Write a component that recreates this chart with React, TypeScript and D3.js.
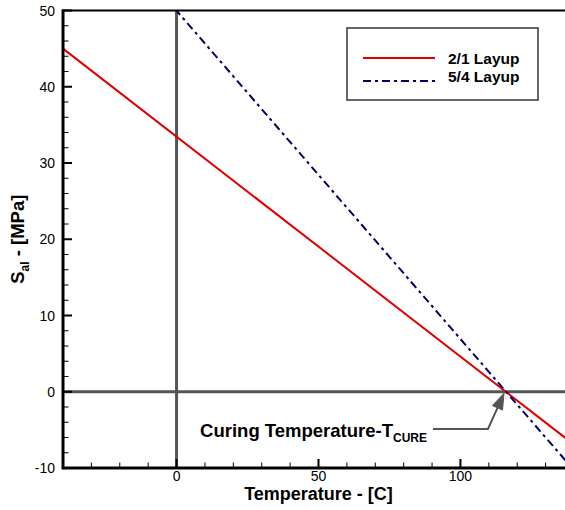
import React from "react";
import * as d3 from "d3";

// ---- data ----
const temperature = [-40, 140];
const layup21 = [45.0, -6.93];
const layup54 = [67.2, -10.3];
const xTicksMajor = [0, 50, 100];
const yTicksMajor = [-10, 0, 10, 20, 30, 40, 50];
const seriesNames = ["2/1 Layup", "5/4 Layup"];
const cureTemp = 115.7;

const W = 565;
const H = 510;
const FONT = "'Liberation Sans', Arial, Helvetica, sans-serif";

export default function App() {
  const x = d3.scaleLinear().domain([-40, 140]).range([63, 574]);
  const y = d3.scaleLinear().domain([-10, 50]).range([468, 10.5]);
  const [x0, x1] = x.range();
  const [yb, yt] = y.range();

  const xMinor = d3.range(-40, 141, 10).filter((v) => !xTicksMajor.includes(v));
  const yMinor = d3.range(-10, 51, 2).filter((v) => !yTicksMajor.includes(v));

  const line = d3
    .line<[number, number]>()
    .x((d) => x(d[0]))
    .y((d) => y(d[1]));

  const d21 = line(temperature.map((t, i) => [t, layup21[i]] as [number, number])) || "";
  const d54 = line(temperature.map((t, i) => [t, layup54[i]] as [number, number])) || "";

  // arrow
  const tipX = x(cureTemp) - 1;
  const tipY = y(0) + 1.5;
  const elbowX = 488;
  const elbowY = 429;
  const dx = tipX - elbowX;
  const dy = tipY - elbowY;
  const len = Math.sqrt(dx * dx + dy * dy);
  const ux = dx / len;
  const uy = dy / len;
  const headL = 16;
  const headW = 5.5;
  const bx = tipX - ux * headL;
  const by = tipY - uy * headL;
  const px = -uy;
  const py = ux;

  return (
    <svg
      width={W}
      height={H}
      style={{ position: "absolute", left: 0, top: 0, background: "#fff" }}
      fontFamily={FONT}
    >
      <defs>
        <clipPath id="plot">
          <rect x={x0} y={yt} width={x1 - x0} height={yb - yt} />
        </clipPath>
      </defs>

      {/* zero lines */}
      <line x1={x(0)} x2={x(0)} y1={yt} y2={yb} stroke="#555" strokeWidth={3} />
      <line x1={x0} x2={x1} y1={y(0)} y2={y(0)} stroke="#555" strokeWidth={3} />

      {/* series */}
      <g clipPath="url(#plot)">
        <path d={d21} fill="none" stroke="#e00000" strokeWidth={2} />
        <path
          d={d54}
          fill="none"
          stroke="#000066"
          strokeWidth={2}
          strokeDasharray="8,4,3,4"
        />
      </g>

      {/* frame */}
      <rect x={x0} y={yt} width={x1 - x0} height={yb - yt} fill="none" stroke="#000" strokeWidth={2} />
      <line x1={x0} x2={x0} y1={yt - 1} y2={yb + 1.5} stroke="#000" strokeWidth={3} />
      <line x1={x0} x2={x1} y1={yb} y2={yb} stroke="#000" strokeWidth={3} />

      {/* y ticks */}
      {yTicksMajor.map((v) => (
        <g key={"ym" + v}>
          <line x1={x0} x2={x0 + 9} y1={y(v)} y2={y(v)} stroke="#000" strokeWidth={2} />
          <text x={55} y={y(v)} fontSize={14} textAnchor="end" dominantBaseline="central">
            {v}
          </text>
        </g>
      ))}
      {yMinor.map((v) => (
        <line key={"yn" + v} x1={x0} x2={x0 + 5.5} y1={y(v)} y2={y(v)} stroke="#000" strokeWidth={1} />
      ))}

      {/* x ticks */}
      {xTicksMajor.map((v) => (
        <g key={"xm" + v}>
          <line x1={x(v)} x2={x(v)} y1={yb} y2={yb - 9} stroke="#000" strokeWidth={2} />
          <text x={x(v)} y={480.5} fontSize={14} textAnchor="middle">
            {v}
          </text>
        </g>
      ))}
      {xMinor.map((v) => (
        <line key={"xn" + v} x1={x(v)} x2={x(v)} y1={yb} y2={yb - 5.5} stroke="#000" strokeWidth={1} />
      ))}

      {/* axis titles */}
      <text x={(x0 + x1) / 2} y={500} fontSize={18} fontWeight="bold" textAnchor="middle">
        Temperature - [C]
      </text>
      <text
        transform={`translate(24, ${(yt + yb) / 2}) rotate(-90)`}
        fontSize={18.5}
        fontWeight="bold"
        textAnchor="middle"
      >
        S
        <tspan fontSize={12} dy={5}>
          al
        </tspan>
        <tspan dy={-5}> - [MPa]</tspan>
      </text>

      {/* legend */}
      <rect x={347} y={28} width={191} height={72} fill="#fff" stroke="#333" strokeWidth={1.5} />
      <line x1={363} x2={435} y1={58} y2={58} stroke="#e00000" strokeWidth={2} />
      <line x1={363} x2={435} y1={81} y2={81} stroke="#000066" strokeWidth={2} strokeDasharray="8,4,3,4" />
      <text x={448} y={63.5} fontSize={15.5} fontWeight="bold">
        {seriesNames[0]}
      </text>
      <text x={448} y={81.5} fontSize={15.5} fontWeight="bold">
        {seriesNames[1]}
      </text>

      {/* annotation */}
      <text x={427} y={437} fontSize={18.5} fontWeight="bold" textAnchor="end">
        Curing Temperature-T
        <tspan fontSize={12} dy={5}>
          CURE
        </tspan>
      </text>
      <polyline
        points={`433,${elbowY} ${elbowX},${elbowY} ${bx},${by}`}
        fill="none"
        stroke="#555"
        strokeWidth={2}
      />
      <polygon
        points={`${tipX},${tipY} ${bx + px * headW},${by + py * headW} ${bx - px * headW},${by - py * headW}`}
        fill="#555"
        stroke="#555"
        strokeWidth={1}
      />
    </svg>
  );
}
